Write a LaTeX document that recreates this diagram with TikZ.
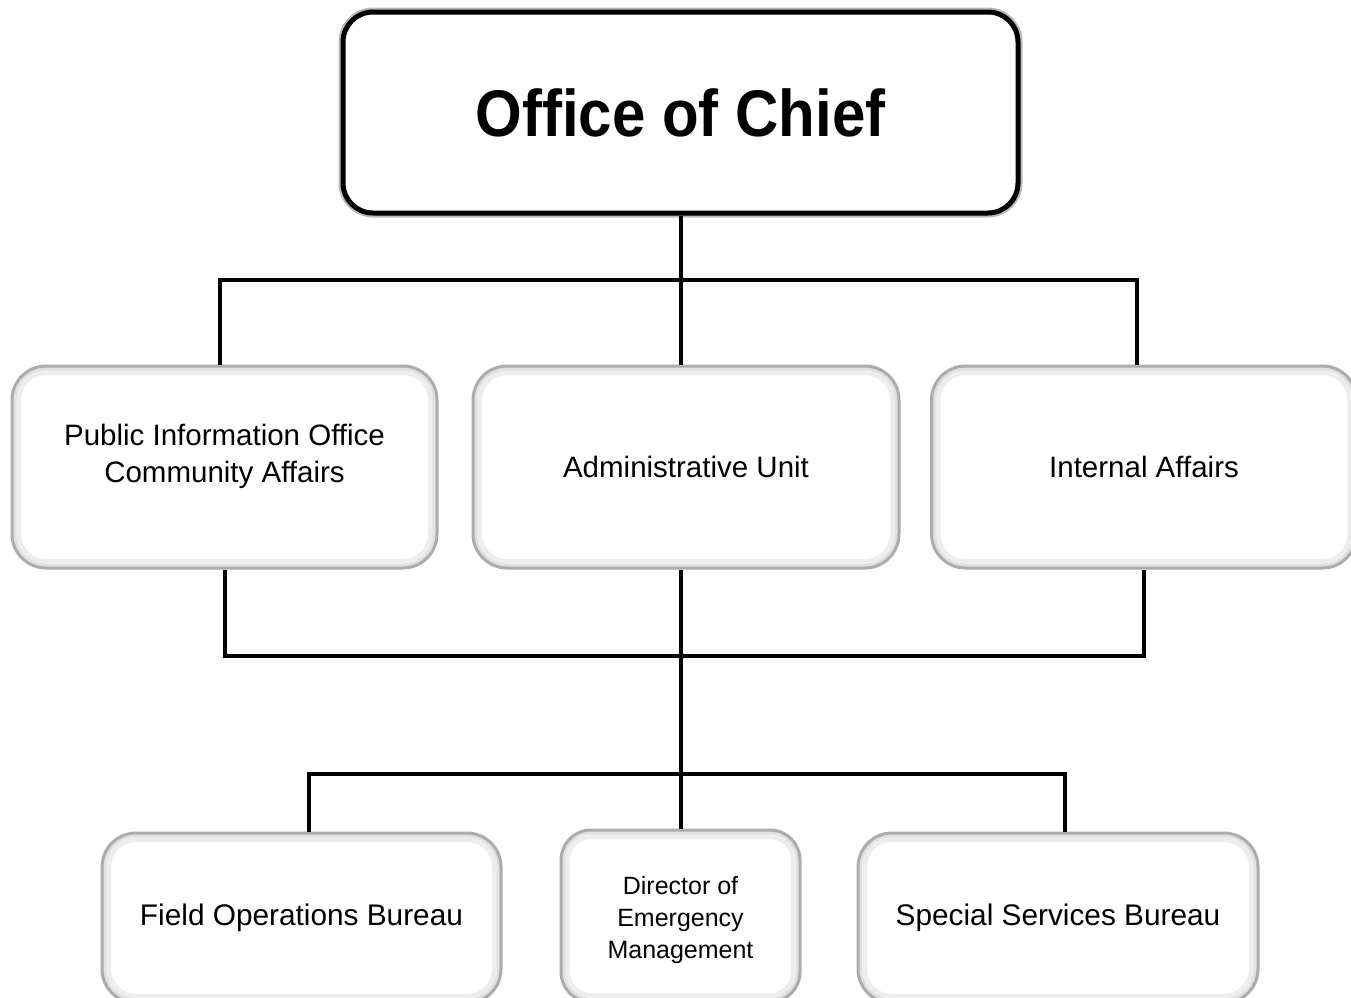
\documentclass[tikz,border=0pt]{standalone}
\usepackage{fontspec}
\setmainfont{Liberation Sans}
\begin{document}
\begin{tikzpicture}[x=1pt,y=-1pt,
  unitbox/.style={rectangle, rounded corners=34pt, draw=gray!65, line width=3pt, fill=white,
    align=center, inner sep=0pt, text=black,
    path picture={\draw[gray!14, line width=18pt] (path picture bounding box.south west) rectangle (path picture bounding box.north east);
                  \draw[gray!24, line width=8pt] (path picture bounding box.south west) rectangle (path picture bounding box.north east);}},
  chiefbox/.style={rectangle, rounded corners=30pt, draw=black, line width=5pt, fill=white,
    align=center, inner sep=0pt,
    preaction={draw=gray!55, line width=9pt}},
  link/.style={draw=black, line width=4pt}
]
\clip (0,0) rectangle (1351,997);
\fill[white] (0,0) rectangle (1351,997);

\node[chiefbox, minimum width=675pt, minimum height=201pt,
  font=\fontsize{60}{66}\selectfont\bfseries] (chief) at (680.5,112.5) {\scalebox{1}[1.1]{Office of Chief}};

\node[unitbox, minimum width=425pt, minimum height=202pt,
  font=\fontsize{29.5}{37}\selectfont] (pio) at (224.5,467) {\raisebox{21.5pt}[0pt][0pt]{\begin{tabular}[t]{@{}c@{}}Public Information Office\\Community Affairs\end{tabular}}};
\node[unitbox, minimum width=426pt, minimum height=202pt,
  font=\fontsize{29.5}{37}\selectfont] (admin) at (686,467) {Administrative Unit};
\node[unitbox, minimum width=425pt, minimum height=202pt,
  font=\fontsize{29.5}{37}\selectfont] (ia) at (1144,467) {Internal Affairs};

\node[unitbox, minimum width=399pt, minimum height=170pt,
  font=\fontsize{29.8}{37}\selectfont] (fob) at (301.5,918) {Field Operations Bureau};
\node[unitbox, minimum width=239pt, minimum height=172pt, rounded corners=30pt,
  font=\fontsize{25}{32}\selectfont] (dem) at (680.5,916) {\raisebox{22pt}[0pt][0pt]{\begin{tabular}[t]{@{}c@{}}Director of\\Emergency\\Management\end{tabular}}};
\node[unitbox, minimum width=400pt, minimum height=170pt,
  font=\fontsize{29.8}{37}\selectfont] (ssb) at (1058,918) {Special Services Bureau};

\coordinate (bus1) at (681,280);
\coordinate (bus2) at (681,656);
\coordinate (bus3) at (681,774);

\draw[link] (chief.south) -- (admin.north -| chief.south);
\draw[link] ([xshift=-5pt]pio.north) |- (bus1) -| ([xshift=-7pt]ia.north);
\draw[link] (pio.south) |- (bus2) -| (ia.south);
\draw[link] (admin.south -| chief.south) -- (dem.north);
\draw[link] ([xshift=7pt]fob.north) |- (bus3) -| ([xshift=7pt]ssb.north);
\end{tikzpicture}
\end{document}
